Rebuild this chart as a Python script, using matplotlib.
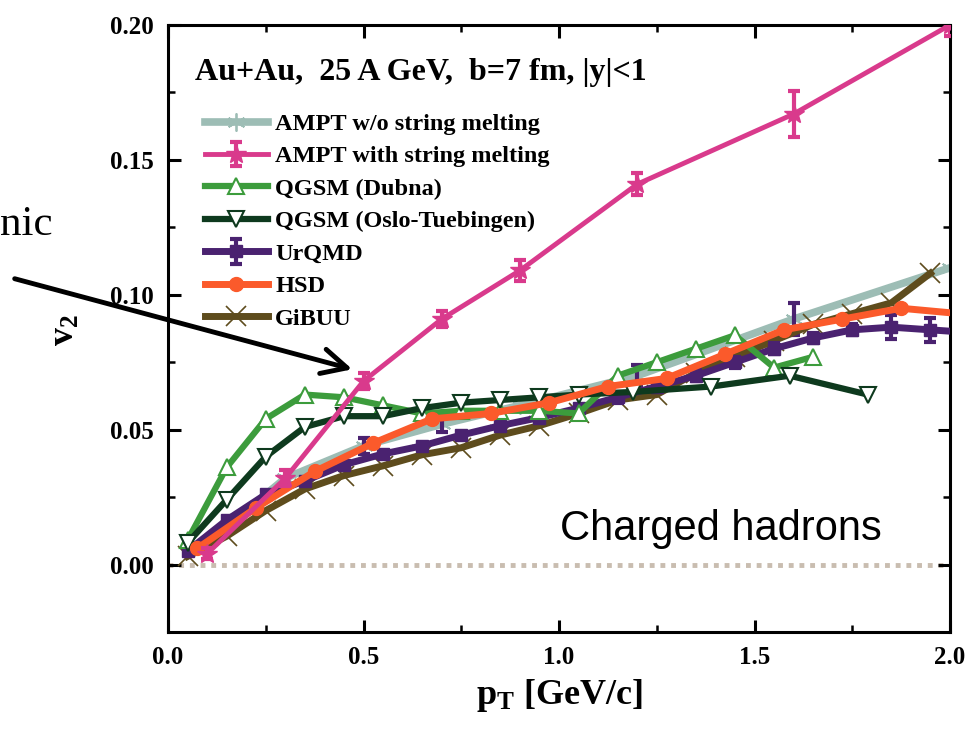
import numpy as np
import matplotlib
matplotlib.use("Agg")
import matplotlib.pyplot as plt
from matplotlib.ticker import MultipleLocator, FormatStrFormatter

plt.rcParams['font.family'] = ['Liberation Serif', 'DejaVu Serif']
plt.rcParams['font.weight'] = 'bold'
plt.rcParams['axes.labelweight'] = 'bold'
plt.rcParams['mathtext.fontset'] = 'custom'
plt.rcParams['mathtext.rm'] = 'Liberation Serif:bold'
plt.rcParams['mathtext.it'] = 'Liberation Serif:bold'
plt.rcParams['mathtext.default'] = 'rm'

# AMPT w/o string melting
ampt_wo_x = [0.1, 0.3, 0.5, 0.7, 0.9, 1.2, 1.6, 2.0]
ampt_wo_y = [0.008, 0.032, 0.044, 0.052, 0.059, 0.070, 0.091, 0.110]
ampt_wo_err = [0.0, 0.0, 0.003, 0.003, 0.0, 0.004, 0.006, 0.0]

# AMPT with string melting
ampt_sm_x = [0.1, 0.3, 0.5, 0.7, 0.9, 1.2, 1.6, 2.0]
ampt_sm_y = [0.004, 0.032, 0.068, 0.091, 0.109, 0.141, 0.167, 0.200]
ampt_sm_err = [0.002, 0.003, 0.003, 0.003, 0.004, 0.004, 0.0085, 0.004]

# QGSM (Dubna)
dubna_x = [0.05, 0.15, 0.25, 0.35, 0.45, 0.55, 0.65, 0.75, 0.85, 0.95, 1.05,
           1.15, 1.25, 1.35, 1.45, 1.55, 1.65]
dubna_y = [0.009, 0.036, 0.054, 0.063, 0.062, 0.059, 0.056, 0.057, 0.057, 0.057,
           0.056, 0.070, 0.075, 0.080, 0.085, 0.073, 0.077]

# QGSM (Oslo-Tuebingen)
oslo_x = [0.05, 0.15, 0.25, 0.35, 0.45, 0.55, 0.65, 0.75, 0.85, 0.95, 1.05,
          1.19, 1.39, 1.59, 1.79]
oslo_y = [0.008, 0.024, 0.040, 0.051, 0.055, 0.055, 0.058, 0.060, 0.061, 0.062,
          0.063, 0.064, 0.066, 0.070, 0.063]

# UrQMD
urqmd_x = [0.05, 0.15, 0.25, 0.35, 0.45, 0.55, 0.65, 0.75, 0.85, 0.95, 1.05,
           1.15, 1.25, 1.35, 1.45, 1.55, 1.65, 1.75, 1.85, 1.95, 2.05]
urqmd_y = [0.005, 0.0165, 0.026, 0.031, 0.037, 0.041, 0.044, 0.048, 0.0515, 0.0545,
           0.058, 0.062, 0.066, 0.070, 0.075, 0.080, 0.084, 0.087, 0.088, 0.087, 0.086]
urqmd_err = [0.001, 0.001, 0.001, 0.001, 0.001, 0.001, 0.001, 0.001, 0.001, 0.001,
             0.001, 0.002, 0.002, 0.002, 0.002, 0.002, 0.002, 0.002, 0.0045, 0.0045, 0.0045]

# HSD
hsd_x = [0.075, 0.225, 0.375, 0.525, 0.675, 0.825, 0.975, 1.125, 1.275, 1.425,
         1.575, 1.725, 1.875, 2.025]
hsd_y = [0.006, 0.021, 0.0345, 0.045, 0.054, 0.056, 0.060, 0.066, 0.069, 0.078,
         0.087, 0.091, 0.095, 0.093]

# GiBUU
gibuu_x = [0.05, 0.15, 0.25, 0.35, 0.45, 0.55, 0.65, 0.75, 0.85, 0.95, 1.05,
           1.15, 1.25, 1.35, 1.45, 1.55, 1.65, 1.75, 1.85, 1.95]
gibuu_y = [0.003, 0.0105, 0.020, 0.028, 0.033, 0.0366, 0.0407, 0.0433, 0.048, 0.0515,
           0.056, 0.061, 0.063, 0.071, 0.077, 0.083, 0.089, 0.093, 0.097, 0.108]

c_wo = '#9dbdb5'
c_sm = '#d93a8c'
c_dub = '#3c9c3c'
c_oslo = '#0e3a1e'
c_urq = '#4a2270'
c_hsd = '#fb5a2b'
c_gib = '#5e4c1d'

fig = plt.figure(figsize=(9.65, 7.29), dpi=100)
ax = fig.add_axes([168 / 965, 97 / 729, 782 / 965, 607 / 729])

ax.axhline(0, color='#c9bdb0', ls=(0, (1, 1.2)), lw=3.5, zorder=1)

h_wo, = ax.plot(ampt_wo_x, ampt_wo_y, color=c_wo, lw=5.5, marker=(6, 2, 0),
                ms=13, mew=1.3, mec=c_wo, label='AMPT w/o string melting', zorder=2)
m = np.array(ampt_wo_err) > 0
ax.errorbar(np.array(ampt_wo_x)[m], np.array(ampt_wo_y)[m], yerr=np.array(ampt_wo_err)[m],
            fmt='none', ecolor=c_urq, elinewidth=3, capsize=4, capthick=3, zorder=2)

h_gib, = ax.plot(gibuu_x, gibuu_y, color=c_gib, lw=5, marker='x', ms=14, mew=1.2,
                 label='GiBUU', zorder=3)

h_urq = ax.errorbar(urqmd_x, urqmd_y, yerr=urqmd_err, color=c_urq, lw=5, marker='s',
                    ms=9, elinewidth=3, capsize=4, capthick=3, label='UrQMD', zorder=4)

h_dub, = ax.plot(dubna_x, dubna_y, color=c_dub, lw=4.5, marker='^', ms=11, mfc='white',
                 mec=c_dub, mew=1.5, label='QGSM (Dubna)', zorder=5)

h_oslo, = ax.plot(oslo_x, oslo_y, color=c_oslo, lw=4.5, marker='v', ms=11, mfc='white',
                  mec=c_oslo, mew=1.5, label='QGSM (Oslo-Tuebingen)', zorder=6)

h_hsd, = ax.plot(hsd_x, hsd_y, color=c_hsd, lw=5, marker='o', ms=10,
                 label='HSD', zorder=7)

h_sm = ax.errorbar(ampt_sm_x, ampt_sm_y, yerr=ampt_sm_err, color=c_sm, lw=3.5, marker='*',
                   ms=15, elinewidth=3, capsize=4, capthick=3,
                   label='AMPT with string melting', zorder=8)

ax.set_xlim(0, 2.0)
ax.set_ylim(-0.025, 0.20)
ax.xaxis.set_major_locator(MultipleLocator(0.5))
ax.xaxis.set_minor_locator(MultipleLocator(0.25))
ax.yaxis.set_major_locator(MultipleLocator(0.05))
ax.yaxis.set_minor_locator(MultipleLocator(0.025))
ax.xaxis.set_major_formatter(FormatStrFormatter('%.1f'))
ax.yaxis.set_major_formatter(FormatStrFormatter('%.2f'))
ax.tick_params(which='both', direction='in', top=True, right=True, labelsize=18)
ax.tick_params(which='major', length=9, width=2.2, pad=10)
ax.tick_params(which='minor', length=5, width=1.8)
for s in ax.spines.values():
    s.set_linewidth(2.2)

ax.set_xlabel(r'p$_\mathregular{T}$ [GeV/c]', fontsize=26, fontweight='bold', labelpad=6)
fig.text(65 / 965, (729 - 330) / 729, r'v$_\mathregular{2}$', rotation=90,
         fontsize=26, ha='center', va='center')

fig.text(195 / 965, (729 - 80) / 729, 'Au+Au,  25 A GeV,  b=7 fm, |y|<1',
         fontsize=23, va='baseline')

leg = ax.legend(handles=[h_wo, h_sm, h_dub, h_oslo, h_urq, h_hsd, h_gib],
                loc='upper left', bbox_to_anchor=(0.047, 0.855), frameon=False,
                fontsize=17.5, handlelength=2.6, handletextpad=0.3,
                labelspacing=0.43, borderpad=0, borderaxespad=0)

fig.text(560 / 965, (729 - 540) / 729, 'Charged hadrons', fontsize=30,
         family='Liberation Sans', weight='normal', va='baseline')

fig.text(53 / 965, (729 - 235) / 729, 'nic', fontsize=31, weight='normal',
         ha='right', va='baseline')

fig.add_artist(matplotlib.patches.FancyArrowPatch(
    (12 / 965, (729 - 278) / 729), (355 / 965, (729 - 370) / 729),
    transform=fig.transFigure, arrowstyle='->,head_length=0.9,head_width=0.45',
    mutation_scale=20, lw=3.5, color='black'))

fig.savefig('out.png', dpi=100)
